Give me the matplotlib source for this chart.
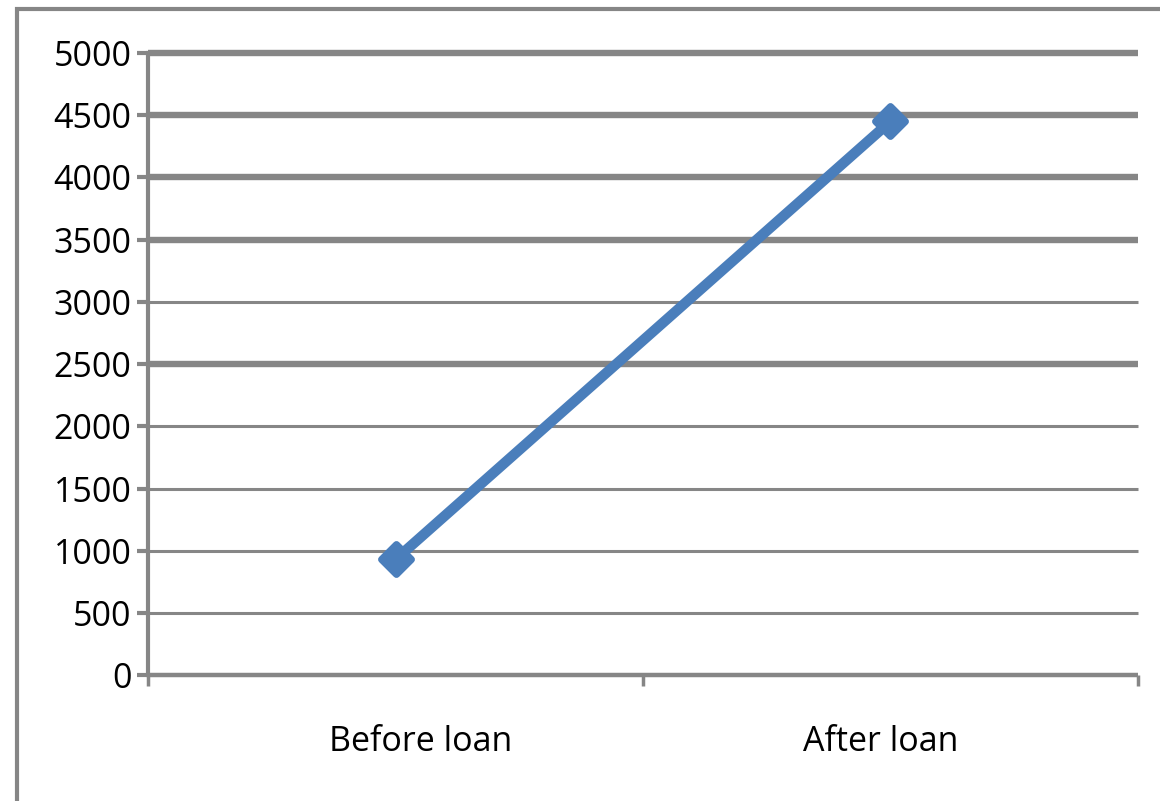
import matplotlib.pyplot as plt
from matplotlib.patches import Rectangle
from matplotlib.markers import MarkerStyle
from matplotlib.transforms import ScaledTranslation

# loan data
categories = ['Before loan', 'After loan']
values = [930, 4450]
y_ticks = [0, 500, 1000, 1500, 2000, 2500, 3000, 3500, 4000, 4500, 5000]
# gridline widths as they come out of the spreadsheet export
grid_widths = [3.2, 2.2, 2.2, 2.2, 2.2, 4.6, 2.2, 4.6, 4.6, 4.6, 4.6]

plt.rcParams['font.family'] = ['Open Sans', 'DejaVu Sans']
grey = '#868686'
blue = '#4a7ebb'

fig = plt.figure(figsize=(11.6, 8.01), dpi=100)
ax = fig.add_axes([0.1276, 0.157, 0.8534, 0.777])

# frame round the whole chart (right and bottom edges fall outside)
fig.patches.append(Rectangle((17 / 1160, -0.05), 1.2, 1 - 9 / 801 + 0.05,
                             transform=fig.transFigure, fill=False,
                             edgecolor=grey, linewidth=3, zorder=0))

for y, lw in zip(y_ticks, grid_widths):
    ax.axhline(y, color=grey, linewidth=lw, zorder=1, solid_capstyle='butt',
               clip_on=False)

x = [0.5, 1.5]
diamond = MarkerStyle('D', joinstyle='round')
ax.plot(x, values, color=blue, linewidth=7.5, marker=diamond, markersize=15,
        markerfacecolor=blue, markeredgecolor=blue, markeredgewidth=5,
        solid_joinstyle='round', zorder=3, clip_on=False)

ax.set_xlim(0, 2)
ax.set_ylim(0, 5000)
ax.set_yticks(y_ticks)
ax.set_xticks([0, 1, 2])
ax.set_xticklabels([])
ax.set_xticks(x, minor=True)
ax.set_xticklabels(categories, minor=True)

for s in ['top', 'right', 'bottom']:
    ax.spines[s].set_visible(False)
ax.spines['left'].set_color(grey)
ax.spines['left'].set_linewidth(3)

ax.tick_params(axis='y', length=8, width=3, color=grey, labelsize=24.5, pad=4)
ax.tick_params(axis='x', which='major', length=8, width=2.5, color=grey)
ax.tick_params(axis='x', which='minor', length=0, labelsize=24.5, pad=36)

# category labels sit a little off the category centres
for lab, dx in zip(ax.get_xticklabels(minor=True), [0.25, -0.1]):
    lab.set_transform(lab.get_transform() + ScaledTranslation(dx, 0, fig.dpi_scale_trans))

fig.savefig('out.png', dpi=100)
